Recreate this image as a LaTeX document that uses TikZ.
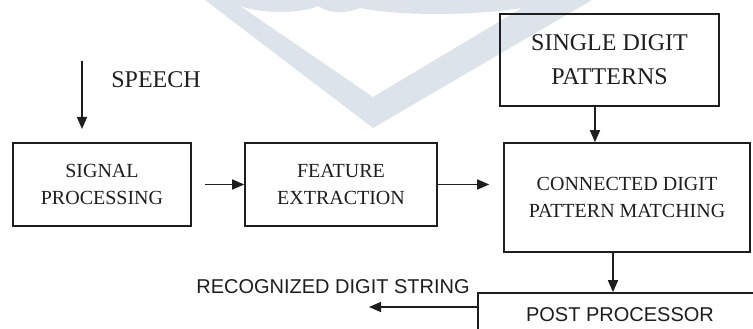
\documentclass[tikz,border=0pt]{standalone}
\usepackage{fontspec}
\setmainfont{Liberation Serif}
\newfontfamily\labelsans{Liberation Sans}
\usetikzlibrary{arrows.meta}
\definecolor{wmark}{HTML}{DDE3EA}
\definecolor{ink}{HTML}{1E1E1E}
\tikzset{
  blockbox/.style={draw=ink, line width=1.6pt, rectangle, inner sep=0pt, align=center,
    text=ink, font=\fontsize{20}{27}\selectfont},
  bigbox/.style={blockbox, font=\fontsize{24}{34}\selectfont},
  flow/.style={draw=ink, line width=1.6pt, -{Triangle[length=12pt,width=10pt]}},
}
\begin{document}
\begin{tikzpicture}[x=1pt,y=-1pt]
  \clip (0,0) rectangle (753,329);
  \fill[white] (0,0) rectangle (753,329);

  % faint emblem in the background
  \fill[wmark, even odd rule]
    (205,0) -- (373,128) -- (592,0) -- cycle
    (240,6) .. controls (262,14) and (300,14) .. (318,6)
            .. controls (330,14) and (345,14) .. (360,8)
            .. controls (400,16) and (470,16) .. (522,8)
    -- (373,97) -- cycle;

  % blocks
  \node[blockbox, minimum width=178pt, minimum height=83pt] (sig) at (102,184.5)
    {SIGNAL\\PROCESSING};
  \node[blockbox, minimum width=192pt, minimum height=83pt] (feat) at (341,184.5)
    {FEATURE\\EXTRACTION};
  \node[blockbox, minimum width=246pt, minimum height=109pt] (match) at (627,197.5)
    {CONNECTED DIGIT\\PATTERN MATCHING};
  \node[bigbox, minimum width=219pt, minimum height=92pt] (single) at (609.5,60)
    {SINGLE DIGIT\\PATTERNS};
  \node[draw=ink, line width=1.6pt, minimum width=302pt, minimum height=66pt] (post) at (629,326) {};
  \node[text=ink, font=\labelsans\fontsize{20}{24}\selectfont] (postlbl) at (620,315) {POST PROCESSOR};

  % free labels
  \node[text=ink, font=\fontsize{24}{30}\selectfont] (speech) at (156,80) {SPEECH};
  \node[text=ink, font=\labelsans\fontsize{20}{24}\selectfont] (result) at (333,287) {RECOGNIZED DIGIT STRING};

  % connector end points
  \coordinate (speechtop) at (82,61);
  \coordinate (speechend) at (82,129);
  \coordinate (resultend) at (369,307);

  % connectors
  \draw[flow] (speechtop) -- (speechend);
  \draw[flow, shorten <=13pt] (sig.east) -- (feat.west);
  \draw[flow, shorten >=14pt] (feat.east) -- (feat.east -| match.west);
  \draw[flow] (single.south -| 595,0) -- (match.north -| 595,0);
  \draw[flow] (match.south -| 613,0) -- (post.north -| 613,0);
  \draw[flow] (post.west |- resultend) -- (resultend);
\end{tikzpicture}
\end{document}
